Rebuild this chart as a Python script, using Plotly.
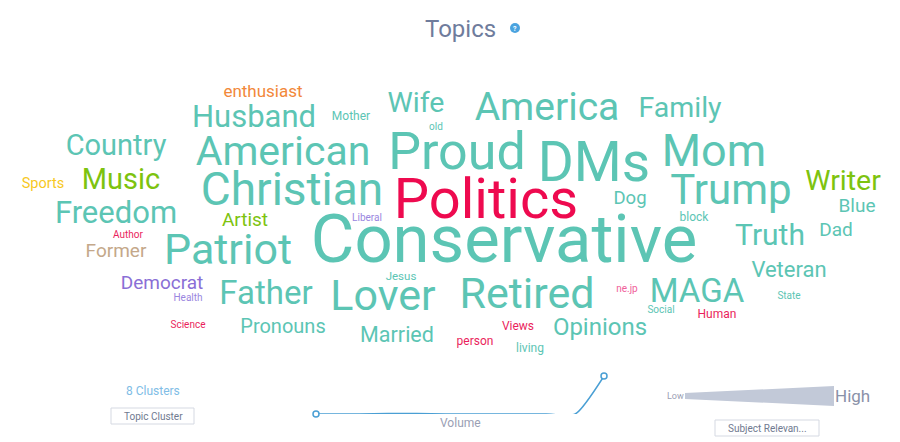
import plotly.graph_objects as go

# ---------------- data ----------------
words = ["Conservative", "Politics", "Proud", "DMs", "Mom", "Trump", "Christian", "American",
         "Patriot", "Lover", "Retired", "MAGA", "America", "Husband", "Country", "Music",
         "Freedom", "Father", "Truth", "Writer", "Family", "Wife", "Veteran", "Opinions",
         "Pronouns", "Married", "Democrat", "Former", "Artist", "enthusiast", "Sports", "Dog",
         "Blue", "Dad", "Mother", "old", "Liberal", "block", "Author", "Health", "Science",
         "Jesus", "ne.jp", "Social", "State", "Human", "Views", "person", "living"]
relevance = [67, 56, 52, 55, 45, 42, 46, 41,
             43, 43, 43, 33, 39, 31, 29, 29,
             31, 33, 30, 28.5, 28.5, 28.5, 22, 24,
             20, 21.5, 19, 19, 19, 17, 14.5, 18.5,
             19, 19, 12, 10, 10, 12, 10, 10, 10,
             11.5, 10, 10, 10, 12, 12, 12, 12]
cluster = ["teal", "red", "teal", "teal", "teal", "teal", "teal", "teal",
           "teal", "teal", "teal", "teal", "teal", "teal", "teal", "green",
           "teal", "teal", "teal", "green", "teal", "teal", "teal", "teal",
           "teal", "teal", "purple", "tan", "green", "orange", "yellow", "teal",
           "teal", "teal", "teal", "teal", "purple", "teal", "red", "purple", "red",
           "teal", "pink", "teal", "teal", "red", "red", "red", "teal"]

volume_series = [3, 3, 4, 5, 4, 3, 3, 3, 3, 3, 150]
n_clusters_label = "8 Clusters"

# ---------------- layout (word placement in pixels) ----------------
word_x = [504, 486, 457, 594, 714, 731, 292, 283,
          228, 383, 527, 697, 547, 254, 116, 121,
          116, 266, 770, 843, 680, 416, 789, 600,
          283, 397, 162, 116, 245, 263, 43, 630,
          857, 836, 351, 436, 367, 694, 128, 188, 188,
          401, 627, 661, 789, 717, 518, 475, 530]
word_y = [240, 200, 152, 163, 151, 190, 190, 151,
          250, 296, 294, 291, 107, 117, 145, 179,
          213, 293, 235, 181, 108, 103, 270, 327,
          326, 335, 283, 251, 220, 91, 183, 198,
          206, 230, 116, 127, 218, 217, 235, 298, 325,
          276, 289, 310, 296, 314, 326, 341, 348]
# anchor correction: plotly centres on cap height, estimates were visual centres
word_y_anchor = [y + 0.08 * s for y, s in zip(word_y, relevance)]

colors = {"teal": "#5cc5b4", "red": "#ee0a4f", "green": "#7dc30f", "orange": "#f2883a",
          "yellow": "#f7c81e", "purple": "#8a6fd6", "tan": "#c4a88a", "pink": "#f0609a"}
word_colors = [colors[c] for c in cluster]
for i, w in enumerate(words):
    if w in ("Health", "Liberal"):
        word_colors[i] = "#9a86e0"
    if w in ("Author", "Science", "Views", "person", "Human"):
        word_colors[i] = "#ea1f5d"

fig = go.Figure()

fig.add_trace(go.Scatter(
    x=word_x, y=word_y_anchor, mode="text", text=words,
    textposition="middle center",
    textfont=dict(family="Roboto", size=relevance, color=word_colors),
    hoverinfo="text", showlegend=False, xaxis="x", yaxis="y"))

# volume sparkline
vx = list(range(len(volume_series)))
fig.add_trace(go.Scatter(
    x=vx, y=volume_series, mode="lines",
    line=dict(color="#4a9fd4", width=1.5, shape="spline", smoothing=0.6),
    showlegend=False, hoverinfo="skip", xaxis="x2", yaxis="y2"))
fig.add_trace(go.Scatter(
    x=[vx[0], vx[-1]], y=[volume_series[0], volume_series[-1]], mode="markers",
    marker=dict(size=6, color="white", line=dict(color="#4a9fd4", width=1.5)),
    showlegend=False, hoverinfo="skip", xaxis="x2", yaxis="y2", cliponaxis=False))

W, H = 900, 442
annotations = [
    dict(x=460, y=29, text="Topics", showarrow=False, xref="x", yref="y",
         font=dict(family="Roboto", size=24, color="#6f7c9c")),
    dict(x=515, y=28.5, text="<b>?</b>", showarrow=False, xref="x", yref="y",
         font=dict(family="Roboto", size=7, color="white")),
    dict(x=153, y=391, text=n_clusters_label, showarrow=False, xref="x", yref="y",
         font=dict(family="Roboto", size=12, color="#80bde6")),
    dict(x=153, y=416, text="Topic Cluster", showarrow=False, xref="x", yref="y",
         font=dict(family="Roboto", size=10, color="#707a90")),
    dict(x=460, y=423, text="Volume", showarrow=False, xref="x", yref="y",
         font=dict(family="Roboto", size=12, color="#9aa0b4")),
    dict(x=675, y=396, text="Low", showarrow=False, xref="x", yref="y",
         font=dict(family="Roboto", size=9, color="#9aa0b4")),
    dict(x=852, y=396, text="High", showarrow=False, xref="x", yref="y",
         font=dict(family="Roboto", size=17, color="#8a91a8")),
    dict(x=767, y=428, text="Subject Relevan...", showarrow=False, xref="x", yref="y",
         font=dict(family="Roboto", size=10, color="#707a90")),
]

shapes = [
    dict(type="circle", xref="x", yref="y", x0=510, x1=520, y0=23, y1=33,
         fillcolor="#4aa3df", line=dict(width=0)),
    dict(type="rect", xref="x", yref="y", x0=111, x1=194, y0=408, y1=424,
         line=dict(color="#d5d9e2", width=1), fillcolor="rgba(0,0,0,0)"),
    dict(type="rect", xref="x", yref="y", x0=715, x1=819, y0=420, y1=436,
         line=dict(color="#d5d9e2", width=1), fillcolor="rgba(0,0,0,0)"),
    dict(type="path", xref="x", yref="y",
         path="M 685 393 L 834 386 L 834 406 L 685 399 Z",
         fillcolor="#c2c9d8", line=dict(width=0)),
]

fig.update_layout(
    width=W, height=H, margin=dict(l=0, r=0, t=0, b=0),
    paper_bgcolor="white", plot_bgcolor="rgba(0,0,0,0)",
    xaxis=dict(range=[0, W], visible=False, domain=[0, 1], fixedrange=True),
    yaxis=dict(range=[H, 0], visible=False, domain=[0, 1], fixedrange=True),
    xaxis2=dict(domain=[316 / W, 604 / W], range=[0, len(volume_series) - 1],
                visible=False, anchor="y2"),
    yaxis2=dict(domain=[1 - 414 / H, 1 - 376 / H],
                range=[min(volume_series), max(volume_series)],
                visible=False, anchor="x2"),
    annotations=annotations, shapes=shapes,
    showlegend=False,
)

fig.write_html("out.html", config={"displayModeBar": False},
               post_script="document.body.style.margin='0';document.body.style.overflow='hidden';")
